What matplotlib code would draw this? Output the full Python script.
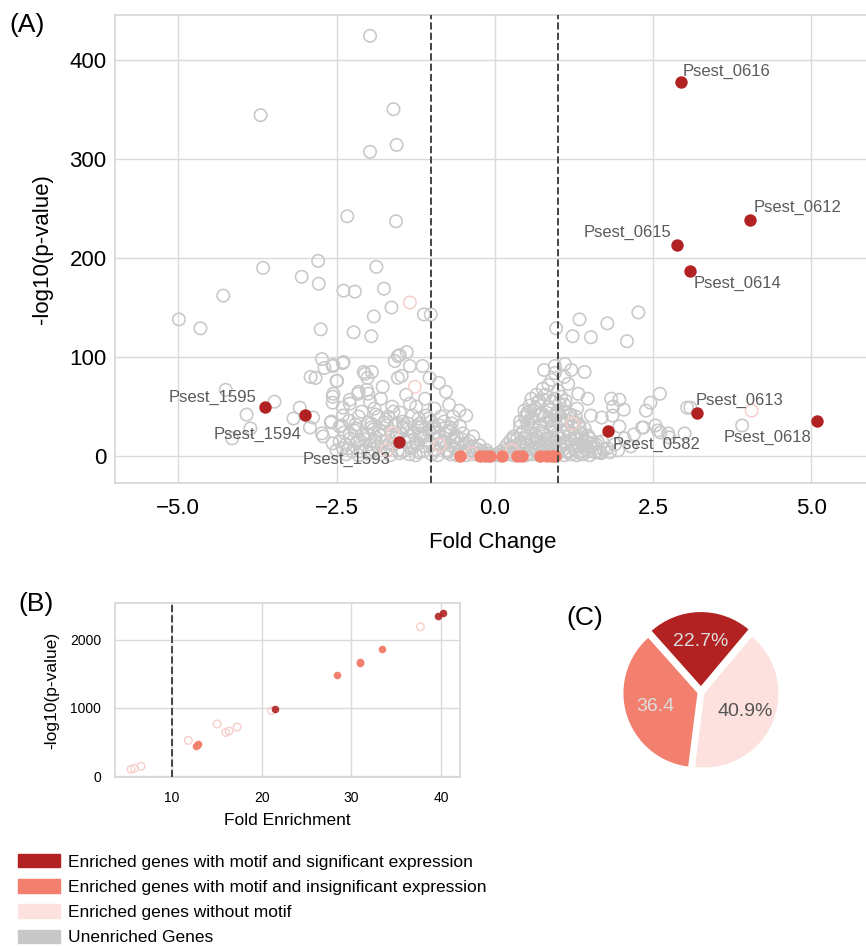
import numpy as np
import matplotlib.pyplot as plt
from matplotlib.patches import Patch

plt.rcParams['font.family'] = ['Liberation Sans', 'DejaVu Sans']

DARK = '#B22222'
SALMON = '#F3806F'
PINK = '#FCE1DE'
PINK_EDGE = '#F7CFCA'
GREY = '#C8C8C8'

# ---- (A) volcano plot, unenriched genes ----
grey_fc = [
    # scattered outliers, left
    -1.97, -3.70, -1.60, -1.97, -1.55, -2.33, -1.56, -2.79, -3.66, -1.87, -3.05, -2.78,
    -4.29, -1.75, -2.39, -2.21, -4.99, -4.65, -1.63, -1.91, -1.12, -1.01, -2.75, -2.23,
    -1.95, -1.39, -1.53, -1.58, -2.39, -2.73, -2.56, -2.69, -1.34, -1.14, -2.50, -2.91,
    -2.83, -2.07, -1.94, -2.01, -1.77, -1.53, -1.03, -0.88, -0.77, -4.25, -3.48, -3.92,
    -3.86, -4.15, -3.08, -3.18, -2.92, -2.87, -2.59, -2.73, -2.56, -2.40, -2.29, -2.15,
    -2.02, -2.56, -2.56,
    # left cloud
    -2.55, -2.40, -2.49, -2.05, -1.50, -1.47, -0.56, -0.66, -0.45, -2.55, -2.29, -2.16,
    -2.00, -1.97, -1.84, -1.68, -1.58, -1.37, -1.34, -1.24, -1.08, -1.00, -0.87, -0.71,
    -0.50, -0.34, -2.40, -2.42, -2.58, -2.71, -2.29, -2.13, -1.95, -1.82, -1.71, -1.34,
    -1.18, -1.08, -0.87, -0.66, -0.45, -0.24, -0.13,
    -2.40, -2.25, -2.10, -1.95, -1.85, -1.70, -1.60, -1.45, -1.30, -1.20, -1.10, -0.95,
    -0.85, -0.75, -0.62, -0.52, -0.40, -0.30, -0.18, -0.05,
    -2.20, -2.00, -1.90, -1.75, -1.55, -1.45, -1.25, -1.15, -0.95, -0.80, -0.60, -0.55,
    -2.10, -1.90, -1.80, -1.62, -1.50, -1.40, -1.20, -1.10, -0.95, -0.85, -0.72, -0.68,
    -2.45, -2.35, -2.28, -2.18, -2.05, -1.98, -1.88, -1.78, -1.66, -1.56, -1.42, -1.35,
    -1.22, -1.14, -1.02, -0.92, -0.82, -0.70, -0.58, -0.47, -0.36, -0.27, -0.20, -0.10,
    -2.38, -2.22, -2.08, -1.92, -1.80, -1.64, -1.50, -1.38, -1.28, -1.16, -1.04, -0.90,
    -0.78, -0.64, -0.52, -0.40,
    -2.35, -2.15, -2.00, -1.80, -1.65, -1.50, -1.35, -1.25, -1.00, -0.90, -0.70, -0.60,
    -0.45, -0.35, -0.25, -0.10,
    -2.30, -2.15, -2.00, -1.88, -1.72, -1.60, -1.45, -1.30, -1.18, -1.05, -0.95, -0.80,
    -0.70,
    -2.50, -2.32, -2.12, -1.93, -1.73, -1.53, -1.33, -1.13, -0.93, -0.75, -0.55, -0.42,
    -0.30, -0.15,
    -2.45, -2.20, -1.95, -1.70, -1.45, -1.22, -0.98, -0.75,
    # right cloud
    0.05, 0.15, 0.25, 0.35, 0.45, 0.55, 0.65, 0.75, 0.85, 0.95, 1.05, 1.15, 1.25, 1.35,
    1.45, 1.60, 1.66, 1.82, 1.95,
    0.20, 0.30, 0.40, 0.45, 0.55, 0.60, 0.70, 0.75, 0.85, 0.90, 1.00, 1.10, 1.15, 1.25,
    1.35, 1.40, 1.50, 1.55, 1.63, 1.47, 1.34, 1.97, 2.35,
    0.40, 0.50, 0.47, 0.55, 0.60, 0.65, 0.70, 0.80, 0.85, 0.90, 0.95, 1.00, 1.05, 1.10,
    1.20, 1.25, 1.30, 1.52, 1.69, 1.86, 1.87, 2.04, 2.39, 2.46, 2.61, 3.04,
    0.58, 0.66, 0.76, 0.80, 0.90, 0.85, 1.00, 1.05, 1.16, 1.32, 1.47, 1.84, 1.97, 1.10,
    0.95,
    0.10, 0.20, 0.30, 0.40, 0.50, 0.60, 0.70, 0.80, 0.90, 1.00, 1.10, 1.20, 1.30, 1.40,
    1.50,
    0.15, 0.28, 0.38, 0.50, 0.62, 0.72, 0.82, 0.92, 1.02, 1.12, 1.22, 1.32, 1.42, 1.52,
    1.60, 1.72,
    0.30, 0.42, 0.52, 0.64, 0.78, 0.88, 0.98, 1.08, 1.18, 1.28, 1.38, 1.48,
    0.40, 0.52, 0.62, 0.72, 0.82, 0.92, 1.02, 1.12, 1.22, 1.32, 1.42,
    0.52, 0.62, 0.75, 0.88, 0.98, 1.08, 1.18, 1.28,
    0.68, 0.78, 0.90, 1.02, 1.12,
    1.70, 1.78, 1.90, 2.05, 2.15, 2.20,
    0.08, 0.18, 0.33, 0.48, 0.58, 0.68, 0.78, 0.88, 0.98, 1.08, 1.18, 1.28, 1.38, 1.48,
    1.58, 1.68,
    0.25, 0.35, 0.48, 0.58, 0.68, 0.80, 0.95, 1.05, 1.20, 1.30, 1.45, 1.60,
    0.48, 0.58, 0.70, 0.85, 0.95, 1.05, 1.15, 1.25,
    # scattered outliers, right
    0.78, 0.95, 1.11, 1.21, 1.42, 0.97, 1.34, 1.23, 1.52, 1.78, 2.09, 2.27,
    2.33, 2.54, 2.58, 3.00, 3.09, 3.91, 2.74, 2.62, 2.76,
]
grey_logp = [
    424, 344, 350, 307, 314, 242, 237, 197, 190, 191, 181, 174,
    162, 169, 167, 166, 138, 129, 150, 141, 143, 143, 128, 125,
    121, 105, 101, 96, 95, 98, 91, 89, 91, 91, 76, 80,
    79, 85, 85, 79, 70, 79, 79, 74, 65, 67, 55, 42,
    28, 18, 49, 38, 29, 39, 34, 23, 13, 49, 57, 65,
    67, 60, 54,
    92, 94, 76, 83, 102, 81, 46, 40, 41, 63, 53, 63,
    63, 55, 40, 40, 31, 33, 53, 50, 41, 35, 31, 26,
    23, 20, 41, 31, 35, 20, 23, 16, 33, 26, 16, 20,
    23, 16, 20, 16, 13, 11, 6,
    8, 5, 9, 4, 10, 6, 12, 5, 9, 4, 10, 6,
    11, 4, 8, 3, 6, 3, 2, 1,
    28, 22, 15, 34, 22, 28, 14, 30, 24, 14, 20, 30,
    45, 48, 58, 50, 44, 62, 38, 58, 48, 40, 52, 33,
    15, 12, 18, 14, 17, 12, 19, 15, 13, 18, 14, 16,
    12, 19, 13, 17, 14, 11, 13, 9, 10, 7, 5, 3,
    24, 26, 22, 27, 21, 25, 23, 27, 24, 21, 26, 23,
    22, 19, 17, 15,
    2, 1, 3, 2, 1, 3, 2, 1, 2, 1, 2, 1,
    1, 2, 1, 0.5,
    36, 40, 34, 42, 37, 45, 35, 41, 33, 38, 30, 35,
    29,
    6, 8, 5, 7, 9, 6, 8, 5, 7, 6, 5, 4,
    3, 2,
    30, 32, 29, 31, 30, 29, 28, 25,
    1, 3, 5, 2, 6, 3, 8, 4, 9, 5, 10, 4, 8, 3,
    7, 4, 4, 4, 6,
    12, 18, 14, 25, 18, 28, 15, 25, 18, 30, 20, 14, 26, 18,
    24, 14, 18, 13, 14, 21, 30, 30, 29,
    35, 42, 46, 51, 38, 48, 56, 40, 50, 36, 58, 45, 38, 52,
    42, 34, 48, 41, 39, 41, 50, 47, 46, 54, 63, 49,
    58, 62, 68, 62, 77, 72, 66, 60, 73, 63, 58, 58, 57, 80,
    84,
    1, 2, 1, 3, 1, 2, 1, 2, 1, 3, 1, 2, 1, 2,
    1,
    8, 10, 12, 11, 13, 10, 12, 14, 11, 13, 12, 10, 11, 9,
    8, 7,
    20, 22, 24, 21, 23, 25, 22, 24, 21, 23, 22, 19,
    30, 33, 35, 32, 34, 31, 35, 32, 30, 33, 28,
    44, 46, 43, 47, 44, 46, 42, 40,
    54, 57, 55, 53, 56,
    15, 8, 12, 18, 10, 22,
    4, 6, 7, 6, 7, 5, 6, 7, 6, 7, 5, 6, 5, 5,
    4, 3,
    16, 17, 18, 16, 19, 17, 16, 18, 16, 17, 15, 12,
    39, 40, 41, 39, 40, 38, 36, 34,
    87, 91, 93, 87, 85, 129, 138, 121, 120, 134, 116, 145,
    29, 31, 26, 23, 49, 31, 23, 24, 19,
]

# enriched genes without motif
nomotif_fc = [-1.34, -1.26, -1.61, -1.71, -0.87, 1.23, 4.06, -0.36, 0.27]
nomotif_logp = [155, 70, 23, 6, 11, 33, 46, 3, 6]

# enriched genes with motif, insignificant expression
insig_fc = [-0.55, -0.24, -0.16, -0.08, 0.11, 0.35, 0.43, 0.71, 0.82, 0.90, 0.95]
insig_logp = [0, 0, 0, 0, 0, 0, 0, 0, 0, 0, 0]

# enriched genes with motif, significant expression
sig_names = ['Psest_0616', 'Psest_0612', 'Psest_0615', 'Psest_0614', 'Psest_0613',
             'Psest_0618', 'Psest_0582', 'Psest_1595', 'Psest_1594', 'Psest_1593']
sig_fc = [2.94, 4.03, 2.88, 3.08, 3.19, 5.09, 1.79, -3.63, -2.99, -1.52]
sig_logp = [377, 238, 213, 187, 44, 36, 25, 50, 42, 14]

# ---- (B) enrichment ----
b_nomotif_x = [5.43, 5.80, 6.54, 11.82, 15.02, 15.98, 16.35, 17.25, 21.11, 37.68]
b_nomotif_y = [103, 118, 147, 524, 765, 641, 662, 720, 960, 2186]
b_insig_x = [12.64, 12.78, 12.93, 28.43, 30.92, 31.00, 33.45]
b_insig_y = [446, 460, 475, 1480, 1662, 1668, 1857]
b_sig_x = [21.45, 39.65, 40.20]
b_sig_y = [990, 2343, 2386]

# ---- (C) pie ----
pie_values = [22.7, 36.4, 40.9]
pie_labels = ['22.7%', '36.4', '40.9%']

legend_labels = ['Enriched genes with motif and significant expression',
                 'Enriched genes with motif and insignificant expression',
                 'Enriched genes without motif',
                 'Unenriched Genes']


def style_axes(ax):
    ax.set_facecolor('white')
    ax.grid(True, color='#dadada', linewidth=1.0)
    ax.set_axisbelow(True)
    for s in ax.spines.values():
        s.set_color('#d6d6d6')
        s.set_linewidth(1.2)
    ax.tick_params(length=0)


fig = plt.figure(figsize=(8.66, 9.47), dpi=100)

# (A)
ax = fig.add_axes([115/866, 1-483/947, 755/866, 468/947])
style_axes(ax)
ax.scatter(grey_fc, grey_logp, s=80, facecolors='none', edgecolors=GREY, linewidths=1.15, zorder=2)
ax.scatter(nomotif_fc, nomotif_logp, s=80, facecolors='none', edgecolors=PINK_EDGE, linewidths=1.1, zorder=3)
ax.scatter(insig_fc, insig_logp, s=80, color=SALMON, linewidths=0, zorder=4)
ax.scatter(sig_fc, sig_logp, s=80, color=DARK, linewidths=0, zorder=5)
ax.axvline(-1, color='#444444', linestyle='--', linewidth=1.4, zorder=6)
ax.axvline(1, color='#444444', linestyle='--', linewidth=1.4, zorder=6)

offsets = [(1, 8, 'left'), (3, 9, 'left'), (-4, 9, 'right'), (3, -9, 'left'), (-1, 9, 'left'),
           (-4, -12, 'right'), (3, -9, 'left'), (-6, 7, 'right'), (-3, -14, 'right'), (-6, -12, 'right')]
for name, x, y, (dx, dy, ha) in zip(sig_names, sig_fc, sig_logp, offsets):
    ax.annotate(name, (x, y), xytext=(dx, dy), textcoords='offset points',
                ha=ha, va='center', fontsize=12, color='#5a5a5a', zorder=7)

ax.set_xlim(-6.0, 5.93)
ax.set_ylim(-27, 445)
ax.set_xticks([-5.0, -2.5, 0.0, 2.5, 5.0])
ax.set_yticks([0, 100, 200, 300, 400])
ax.tick_params(labelsize=16)
ax.tick_params(axis='x', pad=11)
ax.tick_params(axis='y', pad=6)
ax.set_xlabel('Fold Change', fontsize=16, labelpad=9)
ax.set_ylabel('-log10(p-value)', fontsize=16, labelpad=12)
fig.text(27/866, 1-25/947, '(A)', fontsize=19, ha='center', va='center')

# (B)
axb = fig.add_axes([115/866, 1-777/947, 345/866, 174/947])
style_axes(axb)
axb.scatter(b_nomotif_x, b_nomotif_y, s=30, facecolors='none', edgecolors=PINK_EDGE, linewidths=1.0, zorder=3)
axb.scatter(b_insig_x, b_insig_y, s=30, color=SALMON, linewidths=0, zorder=4)
axb.scatter(b_sig_x, b_sig_y, s=30, color=DARK, linewidths=0, alpha=0.9, zorder=5)
axb.axvline(10, color='#444444', linestyle='--', linewidth=1.4, zorder=6)
axb.set_xlim(3.64, 42.1)
axb.set_ylim(-10, 2534)
axb.set_xticks([10, 20, 30, 40])
axb.set_yticks([0, 1000, 2000])
axb.tick_params(labelsize=10, pad=10)
axb.set_xlabel('Fold Enrichment', fontsize=12.5, labelpad=6)
axb.set_ylabel('-log10(p-value)', fontsize=12.5, labelpad=8)
fig.text(36/866, 1-604/947, '(B)', fontsize=19, ha='center', va='center')

# (C)
axc = fig.add_axes([608.5/866, 1-784.5/947, 185/866, 185/947])
wedges, texts = axc.pie(pie_values, colors=[DARK, SALMON, PINK], explode=[0.08, 0.05, 0.05],
                        startangle=50, labels=pie_labels, labeldistance=0.6)
for t, c in zip(texts, ['#dddddd', '#dddddd', '#555555']):
    t.set_ha('center')
    t.set_va('center')
    t.set_color(c)
    t.set_fontsize(14)
fig.text(585/866, 1-618/947, '(C)', fontsize=19, ha='center', va='center')

# legend
handles = [Patch(color=c) for c in [DARK, SALMON, PINK, GREY]]
fig.legend(handles, legend_labels, loc='upper left', bbox_to_anchor=(18/866, 1-854/947),
           frameon=False, fontsize=12.5, handlelength=2.4, handleheight=0.8,
           handletextpad=0.5, labelspacing=0.55, borderaxespad=0, borderpad=0)

fig.savefig('out.png', dpi=100)
